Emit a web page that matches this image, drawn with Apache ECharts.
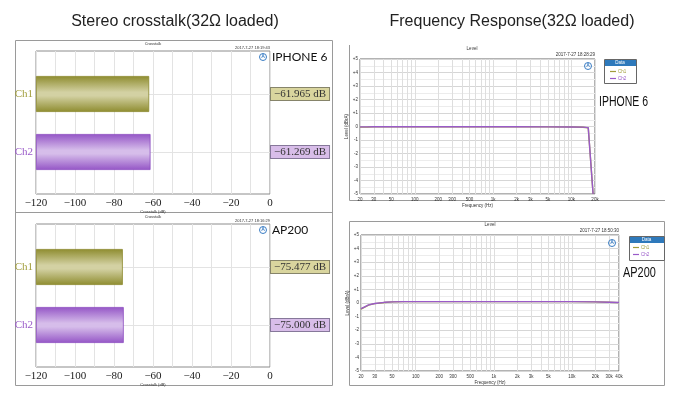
<!DOCTYPE html>
<html><head><meta charset="utf-8">
<script src="https://cdn.jsdelivr.net/npm/echarts@6/dist/echarts.min.js"></script>
<style>html,body{margin:0;padding:0;background:#fff}#c{width:680px;height:403px}</style>
</head><body><div id="c"></div>
<script>
// ---------- data ----------
const crossCategories = ['Ch1', 'Ch2'];
const iphoneCrosstalk = [-61.965, -61.269];
const ap200Crosstalk = [-75.477, -75.000];
const crossTickStep = 20;

const iphoneCh1 = [[20,-0.05],[25,-0.04],[30,-0.03],[50,-0.03],[100,-0.02],[200,-0.02],[500,-0.02],[1000,-0.02],[2000,-0.02],[5000,-0.03],[10000,-0.04],[14000,-0.06],[16400,-0.1],[18900,-5]];
const iphoneCh2 = [[20,-0.03],[25,-0.03],[30,-0.02],[50,-0.02],[100,-0.02],[200,-0.02],[500,-0.02],[1000,-0.02],[2000,-0.02],[5000,-0.03],[10000,-0.04],[14000,-0.05],[16400,-0.08],[18900,-5]];
const ap200Ch1 = [[20,-0.45],[22,-0.32],[25,-0.16],[30,-0.05],[40,0.04],[50,0.08],[70,0.1],[100,0.1],[1000,0.1],[10000,0.1],[20000,0.08],[30000,0.06],[40000,0.03]];
const ap200Ch2 = [[20,-0.42],[22,-0.3],[25,-0.14],[30,-0.04],[40,0.05],[50,0.08],[70,0.1],[100,0.1],[1000,0.1],[10000,0.1],[20000,0.08],[30000,0.06],[40000,0.04]];

const freqLabels20k = [20,30,50,100,200,300,500,1000,2000,3000,5000,10000,20000];
const freqLabels40k = [20,30,50,100,200,300,500,1000,2000,3000,5000,10000,20000,30000,40000];
const freqGridLines = [20,30,40,50,60,70,80,90,100,200,300,400,500,600,700,800,900,1000,2000,3000,4000,5000,6000,7000,8000,9000,10000,20000,30000,40000];

// ---------- styling ----------
const SERIF = '"Liberation Serif","DejaVu Serif",serif';
const SANS = '"Liberation Sans",Arial,sans-serif';
const olive = '#a19d3b', purple = '#9a5bc9';
const minus = v => (v < 0 ? '\u2212' + Math.abs(v) : String(v));
const fmtDb = v => '\u2212' + Math.abs(v).toFixed(3) + ' dB';
function grad(edge, light) {
  return new echarts.graphic.LinearGradient(0, 0, 0, 1, [
    {offset: 0, color: edge}, {offset: 0.45, color: light},
    {offset: 0.55, color: light}, {offset: 1, color: edge}]);
}
const barColors = [grad('#8e8c2f', '#d3d1a3'), grad('#9455c6', '#d6bdea')];
const barBorders = ['#8a882c', '#8c4cc0'];

const chart = echarts.init(document.getElementById('c'));

function crossAxes(frameGrid, barGrid, values) {
  const x = [
    {gridIndex: frameGrid, type: 'value', min: -120, max: 0, interval: crossTickStep,
      axisLine: {show: false}, axisTick: {show: false},
      axisLabel: {formatter: minus, fontFamily: SERIF, fontSize: 11, color: '#222', margin: 4},
      splitLine: {show: true, lineStyle: {color: '#e3e3e3'}},
      minorTick: {show: false, splitNumber: 2},
      minorSplitLine: {show: true, lineStyle: {color: '#e3e3e3'}},
      name: 'Crosstalk (dB)', nameLocation: 'middle', nameGap: 14,
      nameTextStyle: {fontSize: 4, color: '#333'}},
    {gridIndex: barGrid, type: 'value', min: -120, max: 0, startValue: -120, show: false}
  ];
  const y = [
    {gridIndex: frameGrid, type: 'value', show: false},
    {gridIndex: barGrid, type: 'category', data: crossCategories, inverse: true, boundaryGap: false,
      axisLine: {show: false}, axisTick: {show: false},
      splitLine: {show: true, lineStyle: {color: '#e3e3e3'}},
      axisLabel: {margin: 3, formatter: (v, i) => `{c${i}|${v}}`,
        rich: {c0: {color: olive, fontFamily: SERIF, fontSize: 11},
               c1: {color: purple, fontFamily: SERIF, fontSize: 11}}}},
    {gridIndex: barGrid, type: 'category', position: 'right', data: crossCategories, inverse: true, boundaryGap: false,
      axisLine: {show: false}, axisTick: {show: false}, splitLine: {show: false},
      axisLabel: {margin: 1, formatter: (v, i) => `{b${i}|${fmtDb(values[i])}}`,
        rich: {
          b0: {backgroundColor: '#d9d59e', borderColor: '#86846a', borderWidth: 1, padding: [1, 3, 0, 3],
               fontFamily: SERIF, fontSize: 11, lineHeight: 11, color: '#333'},
          b1: {backgroundColor: '#d8bde9', borderColor: '#86789a', borderWidth: 1, padding: [1, 3, 0, 3],
               fontFamily: SERIF, fontSize: 11, lineHeight: 11, color: '#333'}}}}
  ];
  return {x, y};
}

function freqX(gridIndex, max, labels) {
  return {gridIndex, type: 'log', logBase: 10, min: 20, max,
    axisLine: {show: false},
    axisTick: {show: false, customValues: freqGridLines.filter(f => f <= max)},
    axisLabel: {customValues: labels, fontSize: 4.5, color: '#333', margin: 3, fontFamily: SANS,
      formatter: v => { const r = Math.round(v); return r >= 1000 ? (r / 1000) + 'k' : String(r); }},
    splitLine: {show: true, lineStyle: {color: '#dedede'}},
    name: 'Frequency (Hz)', nameLocation: 'middle', nameGap: 9,
    nameTextStyle: {fontSize: 4.5, color: '#333', fontFamily: SANS}};
}
function levelY(gridIndex) {
  return {gridIndex, type: 'value', min: -5, max: 5, interval: 1,
    axisLine: {show: false}, axisTick: {show: false},
    axisLabel: {formatter: v => (v > 0 ? '+' + v : String(v)), fontSize: 4.5, color: '#333', margin: 2, fontFamily: SANS},
    splitLine: {lineStyle: {color: '#d6d6d6'}},
    minorTick: {show: false, splitNumber: 2},
    minorSplitLine: {show: true, lineStyle: {color: '#ececec'}},
    name: 'Level (dBrA)', nameLocation: 'middle', nameRotate: 90, nameGap: 9,
    nameTextStyle: {fontSize: 4.5, color: '#333', fontFamily: SANS}};
}

const tl = crossAxes(0, 1, iphoneCrosstalk);
const bl = crossAxes(2, 3, ap200Crosstalk);

function barSeries(xi, yi, values) {
  return {type: 'bar', name: 'crosstalk' + xi, xAxisIndex: xi, yAxisIndex: yi, barWidth: 36, silent: true,
    data: values.map((v, i) => ({value: v, itemStyle: {color: barColors[i], borderColor: barBorders[i], borderWidth: 0.8}}))};
}
function lineSeries(name, xi, yi, data, color, z) {
  return {type: 'line', name, xAxisIndex: xi, yAxisIndex: yi, data, symbol: 'none', silent: true, z,
    lineStyle: {color, width: 1.4}, itemStyle: {color}};
}

function T(x, y, text, font, fill, align, va, extra) {
  return Object.assign({type: 'text', x, y, silent: true, z: 5,
    style: {text, font, fill: fill || '#222', align: align || 'left', verticalAlign: va || 'middle'}}, extra || {});
}
function logo(x, y) {
  return [
    {type: 'circle', shape: {cx: x, cy: y, r: 3.5}, style: {fill: 'none', stroke: '#3a7dc4', lineWidth: 1}, z: 5, silent: true},
    T(x, y, 'A', 'bold 5px ' + SANS, '#3a7dc4', 'center', 'middle')
  ];
}
function legendBox(x, y, w, h) {
  return [
    {type: 'rect', shape: {x: x + 0.5, y: y + 0.5, width: w, height: h}, style: {fill: '#fff', stroke: '#666', lineWidth: 1}, z: 1, silent: true},
    {type: 'rect', shape: {x: x + 1, y: y + 1, width: w - 1, height: 6}, style: {fill: '#2e79bb'}, z: 2, silent: true},
    T(x + w / 2, y + 4, 'Data', '4.5px ' + SANS, '#fff', 'center', 'middle')
  ];
}

const graphics = [
  T(175, 22, 'Stereo crosstalk(32\u03a9 loaded)', '16px ' + SANS, '#222', 'center'),
  T(512, 22, 'Frequency Response(32\u03a9 loaded)', '16px ' + SANS, '#222', 'center'),
  {type: 'rect', shape: {x: 15.5, y: 40.5, width: 317, height: 345}, style: {fill: 'none', stroke: '#9a9a9a', lineWidth: 1}, silent: true},
  {type: 'line', shape: {x1: 15, y1: 212.5, x2: 332, y2: 212.5}, style: {stroke: '#9a9a9a', lineWidth: 1}, silent: true},
  {type: 'polyline', shape: {points: [[349.5, 45], [349.5, 200.5], [665, 200.5]]}, style: {fill: 'none', stroke: '#9a9a9a', lineWidth: 1}, silent: true},
  {type: 'rect', shape: {x: 349.5, y: 221.5, width: 315, height: 164}, style: {fill: 'none', stroke: '#9a9a9a', lineWidth: 1}, silent: true},
  // left panels
  T(153, 44, 'Crosstalk', '4px ' + SANS, '#333', 'center'),
  T(270, 47.5, '2017-7-27 18:19:43', '4px ' + SANS, '#333', 'right'),
  T(272, 57, 'IPHONE 6', '12px Lato,' + SANS, '#111', 'left'),
  T(153, 216.5, 'Crosstalk', '4px ' + SANS, '#333', 'center'),
  T(270, 220.5, '2017-7-27 18:16:29', '4px ' + SANS, '#333', 'right'),
  T(272, 230, 'AP200', '12px Lato,' + SANS, '#111', 'left'),
  ...logo(263, 57), ...logo(263, 230),
  // right panels
  T(472, 49, 'Level', '4.5px ' + SANS, '#333', 'center'),
  T(595, 55, '2017-7-27 18:28:29', '4.5px ' + SANS, '#333', 'right'),
  T(599, 102, 'IPHONE 6', '14px ' + SANS, '#111', 'left', 'middle', {scaleX: 0.75}),
  T(490, 225, 'Level', '4.5px ' + SANS, '#333', 'center'),
  T(619, 231, '2017-7-27 18:50:30', '4.5px ' + SANS, '#333', 'right'),
  T(623, 273, 'AP200', '14px ' + SANS, '#111', 'left', 'middle', {scaleX: 0.78}),
  ...logo(588, 66), ...logo(612, 243),
  ...legendBox(604, 59, 32, 24), ...legendBox(629, 236, 35, 24)
];

const legendItems = [{name: 'Ch1', textStyle: {color: olive}}, {name: 'Ch2', textStyle: {color: purple}}];

chart.setOption({
  animation: false,
  backgroundColor: '#fff',
  textStyle: {fontFamily: SANS},
  grid: [
    {left: 36, top: 51, width: 234, height: 143, show: true, borderColor: '#8c8c8c', borderWidth: 1, backgroundColor: '#fff'},
    {left: 36, top: 94, width: 234, height: 58},
    {left: 36, top: 224, width: 234, height: 143, show: true, borderColor: '#8c8c8c', borderWidth: 1, backgroundColor: '#fff'},
    {left: 36, top: 267, width: 234, height: 58},
    {left: 360, top: 59, width: 235, height: 135, show: true, borderColor: '#666', borderWidth: 1, backgroundColor: '#fff'},
    {left: 361, top: 235, width: 258, height: 136, show: true, borderColor: '#666', borderWidth: 1, backgroundColor: '#fff'}
  ],
  xAxis: [...tl.x, ...bl.x, freqX(4, 20000, freqLabels20k), freqX(5, 40000, freqLabels40k)],
  yAxis: [...tl.y, ...bl.y, levelY(4), levelY(5)],
  legend: [
    {left: 610, top: 69, orient: 'vertical', icon: 'rect', itemWidth: 6, itemHeight: 1.2, itemGap: 2, padding: 0,
      selectedMode: false, textStyle: {fontSize: 4.5, padding: [0, 0, 0, -3]}, data: legendItems},
    {left: 633, top: 245, orient: 'vertical', icon: 'rect', itemWidth: 6, itemHeight: 1.2, itemGap: 2, padding: 0,
      selectedMode: false, textStyle: {fontSize: 4.5, padding: [0, 0, 0, -3]}, data: legendItems}
  ],
  graphic: graphics,
  series: [
    barSeries(1, 1, iphoneCrosstalk),
    barSeries(3, 4, ap200Crosstalk),
    lineSeries('Ch1', 4, 6, iphoneCh1, olive, 3),
    lineSeries('Ch2', 4, 6, iphoneCh2, purple, 4),
    lineSeries('Ch1', 5, 7, ap200Ch1, olive, 3),
    lineSeries('Ch2', 5, 7, ap200Ch2, purple, 4)
  ]
});
</script></body></html>
